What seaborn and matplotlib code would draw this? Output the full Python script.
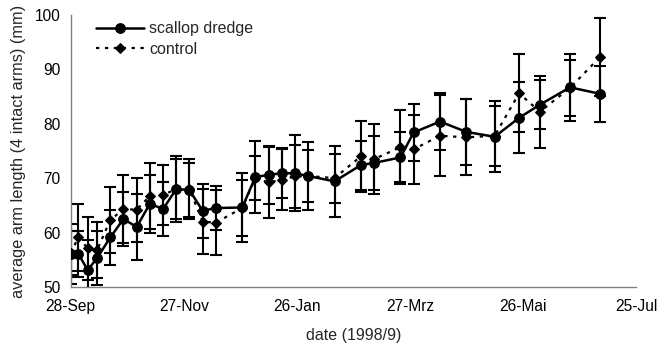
import pandas as pd
import matplotlib
matplotlib.use("Agg")
import matplotlib.pyplot as plt
import seaborn as sns

# sampling days after 28-Sep-1998
days = [0, 4, 9, 14, 21, 28, 35, 42, 49, 56, 63, 70, 77, 91, 98, 105, 112,
        119, 126, 140, 154, 161, 175, 182, 196, 210, 225, 238, 249, 265, 281]

scallop = [56.1, 56.1, 53.1, 55.3, 59.1, 62.5, 61.0, 65.3, 64.3, 68.0, 67.8,
           64.0, 64.5, 64.6, 70.2, 70.6, 70.9, 70.9, 70.4, 69.4, 72.4, 72.8,
           73.8, 78.4, 80.4, 78.5, 77.6, 81.1, 83.5, 86.7, 85.5]
scallop_err = [5.5, 4.2, 5.5, 4.9, 5.1, 5.0, 6.0, 5.3, 5.0, 6.0, 5.0, 5.0,
               4.0, 6.3, 6.6, 5.4, 4.6, 7.0, 6.3, 6.5, 4.5, 5.0, 4.6, 5.2,
               5.3, 6.0, 6.5, 6.5, 4.5, 6.2, 5.2]

control = [56.2, 59.1, 57.1, 56.8, 62.3, 64.3, 64.2, 66.7, 66.9, 68.0, 68.0,
           62.0, 61.8, 64.5, 70.0, 69.2, 69.7, 70.3, 70.4, 70.0, 74.0, 73.5,
           75.7, 75.3, 77.8, 77.5, 77.8, 85.6, 82.2, 86.6, 92.3]
control_err = [4.0, 6.1, 5.8, 5.2, 6.0, 6.3, 5.9, 6.0, 5.5, 5.5, 5.5, 6.0,
               6.0, 5.2, 4.0, 6.6, 5.6, 5.8, 4.8, 4.5, 6.5, 6.4, 6.8, 6.4,
               7.5, 7.0, 5.5, 7.2, 6.6, 5.2, 7.2]

tick_days = [0, 60, 120, 180, 240, 300]
tick_labels = ["28-Sep", "27-Nov", "26-Jan", "27-Mrz", "26-Mai", "25-Jul"]

start = pd.Timestamp("1998-09-28")
df = pd.DataFrame({
    "date": start + pd.to_timedelta(days, unit="D"),
    "scallop": scallop, "scallop_err": scallop_err,
    "control": control, "control_err": control_err,
})

sns.set_style("white")
plt.rcParams["font.family"] = ["Liberation Sans", "DejaVu Sans"]
plt.rcParams["font.size"] = 11

fig = plt.figure(figsize=(6.58, 3.49), dpi=100)
ax = fig.add_axes([0.1075, 0.178, 0.859, 0.779])

# error bars first, then the lines/markers on top
ax.errorbar(df["date"], df["control"], yerr=df["control_err"], fmt="none",
            ecolor="black", elinewidth=1.5, capsize=4, capthick=1.5, zorder=2)
ax.errorbar(df["date"], df["scallop"], yerr=df["scallop_err"], fmt="none",
            ecolor="black", elinewidth=1.5, capsize=4, capthick=1.5, zorder=2)

sns.lineplot(data=df, x="date", y="control", ax=ax, color="black",
             linestyle=(0, (1.5, 2.5)), linewidth=1.6, marker="D",
             markersize=5.5, markeredgecolor="black", label="control", zorder=3)
sns.lineplot(data=df, x="date", y="scallop", ax=ax, color="black",
             linewidth=1.8, marker="o", markersize=7,
             markeredgecolor="black", label="scallop dredge", zorder=4)

ax.set_xlim(start, start + pd.Timedelta(days=300))
ax.set_xticks(start + pd.to_timedelta(tick_days, unit="D"))
ax.set_xticklabels(tick_labels)
ax.set_ylim(50, 100)
ax.set_yticks(range(50, 101, 10))

for side in ["top", "right"]:
    ax.spines[side].set_visible(False)
for side in ["left", "bottom"]:
    ax.spines[side].set_color("#808080")
    ax.spines[side].set_linewidth(1)
ax.tick_params(axis="both", direction="out", length=4, color="#808080",
               labelsize=11.2, labelcolor="black")
ax.tick_params(axis="x", pad=5)

ax.set_xlabel("date (1998/9)", fontsize=11.5, labelpad=10)
ax.set_ylabel("average arm length (4 intact arms) (mm)", fontsize=11.8,
              labelpad=6)

handles, labels = ax.get_legend_handles_labels()
order = [labels.index("scallop dredge"), labels.index("control")]
ax.legend([handles[i] for i in order], [labels[i] for i in order],
          loc="upper left", bbox_to_anchor=(0.02, 1.03), frameon=False,
          fontsize=11.5, handlelength=3, handletextpad=0.3, labelspacing=0.35)

fig.savefig("out.png", dpi=100)
